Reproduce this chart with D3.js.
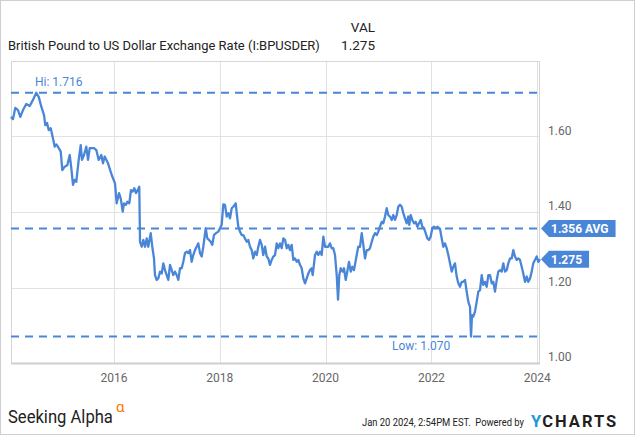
<!DOCTYPE html>
<html>
<head>
<meta charset="utf-8">
<script src="https://cdn.jsdelivr.net/npm/d3@7"></script>
<style>
  html, body { margin: 0; padding: 0; background: #fff; }
  svg { display: block; font-family: Roboto, "Noto Sans", sans-serif; }
</style>
</head>
<body>
<svg id="chart" width="635" height="435"></svg>
<script>
// ---- Data ----
const seriesName = "British Pound to US Dollar Exchange Rate (I:BPUSDER)";
const yearFrac = [
  2014.053,2014.091,2014.134,2014.185,2014.229,2014.280,2014.342,2014.407,2014.469,2014.531,
  2014.577,2014.626,2014.677,2014.701,2014.734,2014.766,2014.804,2014.847,2014.879,2014.909,
  2014.941,2014.993,2015.023,2015.068,2015.117,2015.163,2015.193,2015.225,2015.257,2015.287,
  2015.333,2015.371,2015.395,2015.433,2015.476,2015.509,2015.541,2015.622,2015.666,2015.711,
  2015.760,2015.792,2015.824,2015.887,2015.957,2016.019,2016.051,2016.095,2016.127,2016.165,
  2016.189,2016.227,2016.252,2016.289,2016.321,2016.354,2016.384,2016.416,2016.448,2016.478,
  2016.492,2016.524,2016.554,2016.586,2016.618,2016.648,2016.694,2016.724,2016.756,2016.775,
  2016.807,2016.837,2016.870,2016.902,2016.932,2016.964,2016.996,2017.027,2017.059,2017.091,
  2017.121,2017.153,2017.185,2017.216,2017.248,2017.280,2017.310,2017.342,2017.374,2017.405,
  2017.437,2017.469,2017.499,2017.531,2017.563,2017.594,2017.626,2017.658,2017.688,2017.734,
  2017.764,2017.796,2017.828,2017.858,2017.890,2017.928,2017.972,2018.004,2018.036,2018.066,
  2018.098,2018.131,2018.161,2018.193,2018.225,2018.255,2018.301,2018.320,2018.350,2018.382,
  2018.414,2018.444,2018.476,2018.509,2018.539,2018.571,2018.603,2018.633,2018.666,2018.698,
  2018.728,2018.760,2018.792,2018.822,2018.855,2018.887,2018.917,2018.949,2018.981,2019.011,
  2019.044,2019.076,2019.106,2019.138,2019.170,2019.200,2019.233,2019.265,2019.295,2019.327,
  2019.359,2019.390,2019.422,2019.454,2019.484,2019.516,2019.548,2019.579,2019.611,2019.643,
  2019.673,2019.705,2019.737,2019.756,2019.800,2019.832,2019.862,2019.894,2019.926,2019.957,
  2019.989,2020.021,2020.051,2020.083,2020.115,2020.146,2020.178,2020.210,2020.235,2020.259,
  2020.286,2020.323,2020.348,2020.380,2020.410,2020.442,2020.475,2020.505,2020.537,2020.588,
  2020.618,2020.650,2020.683,2020.713,2020.745,2020.777,2020.807,2020.839,2020.872,2020.902,
  2020.934,2020.966,2020.996,2021.028,2021.061,2021.091,2021.123,2021.155,2021.185,2021.218,
  2021.250,2021.280,2021.312,2021.344,2021.374,2021.407,2021.439,2021.469,2021.501,2021.533,
  2021.563,2021.582,2021.609,2021.639,2021.671,2021.703,2021.734,2021.766,2021.798,2021.828,
  2021.860,2021.892,2021.923,2021.955,2021.987,2022.017,2022.049,2022.081,2022.112,2022.163,
  2022.195,2022.225,2022.257,2022.289,2022.320,2022.352,2022.384,2022.414,2022.446,2022.478,
  2022.509,2022.541,2022.573,2022.603,2022.635,2022.667,2022.698,2022.730,2022.749,2022.768,
  2022.792,2022.824,2022.856,2022.887,2022.919,2022.951,2022.981,2023.013,2023.046,2023.076,
  2023.108,2023.140,2023.170,2023.202,2023.235,2023.265,2023.297,2023.329,2023.359,2023.391,
  2023.424,2023.454,2023.486,2023.518,2023.548,2023.580,2023.613,2023.643,2023.675,2023.707,
  2023.737,2023.769,2023.802,2023.832,2023.864,2023.896,2023.926,2023.958,2023.991,2024.021,
  2024.053
];
const rates = [
  1.652,1.646,1.676,1.670,1.652,1.670,1.686,1.681,1.697,1.716,
  1.705,1.679,1.657,1.630,1.636,1.617,1.622,1.595,1.573,1.579,
  1.573,1.560,1.511,1.520,1.524,1.551,1.516,1.472,1.485,1.480,
  1.538,1.577,1.538,1.551,1.573,1.538,1.569,1.569,1.564,1.538,
  1.551,1.529,1.547,1.529,1.498,1.476,1.423,1.450,1.436,1.401,
  1.423,1.419,1.427,1.423,1.458,1.454,1.463,1.450,1.458,1.467,
  1.321,1.308,1.326,1.308,1.330,1.308,1.344,1.308,1.277,1.233,
  1.220,1.224,1.242,1.237,1.264,1.246,1.233,1.220,1.260,1.246,
  1.233,1.242,1.233,1.220,1.251,1.251,1.268,1.291,1.295,1.291,
  1.299,1.268,1.286,1.299,1.308,1.317,1.291,1.282,1.308,1.357,
  1.330,1.326,1.321,1.313,1.339,1.344,1.348,1.357,1.366,1.420,
  1.419,1.388,1.397,1.383,1.410,1.414,1.423,1.397,1.361,1.348,
  1.339,1.339,1.330,1.321,1.326,1.308,1.299,1.277,1.295,1.286,
  1.308,1.326,1.313,1.286,1.308,1.282,1.277,1.260,1.273,1.282,
  1.286,1.317,1.304,1.317,1.304,1.330,1.326,1.304,1.313,1.299,
  1.313,1.273,1.277,1.268,1.273,1.260,1.251,1.224,1.211,1.224,
  1.237,1.246,1.251,1.233,1.286,1.295,1.286,1.295,1.286,1.335,
  1.308,1.308,1.308,1.317,1.304,1.304,1.286,1.233,1.168,1.233,
  1.251,1.242,1.251,1.220,1.242,1.268,1.242,1.255,1.246,1.286,
  1.308,1.308,1.344,1.313,1.277,1.299,1.299,1.304,1.321,1.335,
  1.344,1.339,1.348,1.361,1.374,1.370,1.388,1.410,1.392,1.388,
  1.379,1.392,1.379,1.392,1.414,1.419,1.414,1.397,1.383,1.370,
  1.388,1.366,1.392,1.379,1.370,1.374,1.361,1.370,1.379,1.361,
  1.357,1.344,1.330,1.326,1.335,1.357,1.361,1.357,1.361,1.355,
  1.330,1.308,1.317,1.304,1.286,1.264,1.242,1.255,1.264,1.229,
  1.211,1.202,1.215,1.215,1.220,1.189,1.162,1.149,1.070,1.127,
  1.123,1.136,1.162,1.189,1.193,1.233,1.207,1.215,1.202,1.233,
  1.233,1.211,1.215,1.189,1.220,1.242,1.246,1.242,1.264,1.242,
  1.246,1.264,1.277,1.277,1.299,1.282,1.273,1.277,1.273,1.255,
  1.237,1.215,1.229,1.215,1.224,1.242,1.264,1.273,1.282,1.268,
  1.275
];
const xTickYears = [2016, 2018, 2020, 2022, 2024];
const xTickLabels = ["2016", "2018", "2020", "2022", "2024"];
const yTickValues = [1.00, 1.20, 1.40, 1.60];
const yTickLabels = ["1.00", "1.20", "1.40", "1.60"];
const hiValue = 1.716, lowValue = 1.070, avgValue = 1.356, lastValue = 1.275;
const hiLabel = "Hi: 1.716", lowLabel = "Low: 1.070";
const avgTag = "1.356 AVG", lastTag = "1.275";
const valHeader = "VAL", valText = "1.275";
const stampText = "Jan 20 2024, 2:54PM EST.  Powered by";

// ---- Layout ----
const W = 635, H = 435;
const plot = { left: 11, right: 540, top: 61, bottom: 363 };
const blue = "#4a86d8";
const svg = d3.select("#chart");

svg.append("rect").attr("x", 0.5).attr("y", 0.5).attr("width", W - 1).attr("height", H - 1)
  .attr("fill", "#fff").attr("stroke", "#cfcfcf");

const x = d3.scaleLinear().domain([yearFrac[0], yearFrac[yearFrac.length - 1]]).range([plot.left, plot.right]);
const y = d3.scaleLinear().domain([1.0, 1.8]).range([plot.bottom, plot.top]);

// horizontally squeeze a text to a target width (keeps its bbox accurate)
function fitText(sel, x0, y0, width) {
  sel.attr("x", 0).attr("y", 0);
  const natural = sel.node().getComputedTextLength();
  sel.attr("transform", `translate(${x0},${y0}) scale(${width / natural},1)`);
  return sel;
}

// header
fitText(svg.append("text").attr("font-size", 13.5).attr("fill", "#222").text(seriesName), 8, 50, 312);
svg.append("text").attr("x", 375).attr("y", 32).attr("text-anchor", "end").attr("font-size", 13.5).attr("fill", "#222").text(valHeader);
svg.append("text").attr("x", 375).attr("y", 50).attr("text-anchor", "end").attr("font-size", 13.5).attr("fill", "#222").text(valText);

// grid
const grid = svg.append("g");
grid.selectAll(".hg").data(yTickValues.filter(v => v > 1.0)).join("line")
  .attr("x1", plot.left).attr("x2", plot.right)
  .attr("y1", d => Math.round(y(d)) + 0.5).attr("y2", d => Math.round(y(d)) + 0.5)
  .attr("stroke", "#e2e2e2").attr("stroke-width", 1);
grid.selectAll(".vg").data(xTickYears).join("line")
  .attr("x1", d => Math.round(x(d)) + 0.5).attr("x2", d => Math.round(x(d)) + 0.5)
  .attr("y1", plot.top).attr("y2", plot.bottom)
  .attr("stroke", "#e2e2e2").attr("stroke-width", 1);

// frame
svg.append("rect").attr("x", plot.left + 0.5).attr("y", plot.top + 0.5)
  .attr("width", plot.right - plot.left - 1).attr("height", plot.bottom - plot.top)
  .attr("fill", "none").attr("stroke", "#d6d6d6");
svg.append("line").attr("x1", plot.left).attr("x2", plot.right)
  .attr("y1", plot.bottom + 0.5).attr("y2", plot.bottom + 0.5)
  .attr("stroke", "#cfcfcf").attr("stroke-width", 2);

// x axis labels
svg.selectAll(".xl").data(xTickYears).join("text")
  .attr("x", d => x(d)).attr("y", 382).attr("text-anchor", "middle")
  .attr("font-size", 12).attr("fill", "#666")
  .text((d, i) => xTickLabels[i]);

// y axis labels
svg.selectAll(".yl").data(yTickValues).join("text")
  .attr("x", 548).attr("y", d => y(d) - 2)
  .attr("font-size", 12).attr("fill", "#666")
  .text((d, i) => yTickLabels[i]);

// reference dashed lines
[hiValue, avgValue, lowValue].forEach(v => {
  svg.append("line").attr("x1", plot.left).attr("x2", plot.right - 2)
    .attr("y1", y(v)).attr("y2", y(v))
    .attr("stroke", blue).attr("stroke-width", 2).attr("stroke-dasharray", "8,6");
});

// series line
const data = yearFrac.map((t, i) => ({ t, v: rates[i] }));
svg.append("path").datum(data)
  .attr("d", d3.line().x(d => x(d.t)).y(d => y(d.v)))
  .attr("fill", "none").attr("stroke", blue).attr("stroke-width", 2.3)
  .attr("stroke-linejoin", "round");

// hi/low labels
svg.append("text").attr("x", 35).attr("y", 86).attr("font-size", 12).attr("fill", blue).text(hiLabel);
svg.append("text").attr("x", 392).attr("y", 350).attr("font-size", 12).attr("fill", blue).text(lowLabel);

// right tags
function tag(value, label) {
  const cy = y(value);
  const g = svg.append("g");
  const path = g.append("path").attr("fill", blue);
  const t = g.append("text").attr("x", 551).attr("y", cy + 4.5)
    .attr("font-size", 12).attr("font-weight", "bold").attr("fill", "#fff").text(label);
  const w = t.node().getComputedTextLength();
  const r = 551 + w + 7, h = 8.5, tip = plot.right + 1;
  path.attr("d", `M${tip},${cy} L${tip + 8},${cy - h} L${r},${cy - h} L${r},${cy + h} L${tip + 8},${cy + h} Z`);
}
tag(avgValue, avgTag);
tag(lastValue, lastTag);

// footer
fitText(svg.append("text").attr("font-size", 19).attr("fill", "#222").text("Seeking Alpha"), 8, 423, 105);
svg.append("text").attr("x", 116).attr("y", 412).attr("font-size", 15).attr("fill", "#ff7a00").text("α");
fitText(svg.append("text").attr("font-size", 11.5).attr("fill", "#222")
  .attr("xml:space", "preserve").text(stampText), 362, 426, 162);
const yT = svg.append("text").attr("x", 531).attr("y", 427).attr("font-size", 16.5).attr("font-weight", "bold")
  .attr("fill", "#1a9ad9").text("Y");
const yW = yT.node().getComputedTextLength();
svg.append("text").attr("x", 531 + yW + 1).attr("y", 427).attr("font-size", 16.5).attr("font-weight", "bold")
  .attr("letter-spacing", 2).attr("fill", "#1f1f1f").text("CHARTS");
</script>
</body>
</html>
